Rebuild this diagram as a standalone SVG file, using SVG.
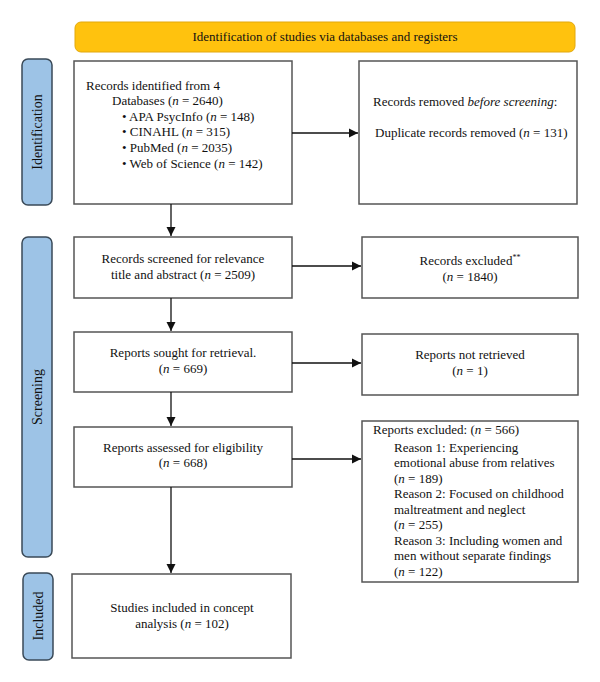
<svg xmlns="http://www.w3.org/2000/svg" width="600" height="682" viewBox="0 0 600 682">
<defs>
<style>
text{font-family:"Liberation Serif","Times New Roman",serif;font-size:13px;fill:#111;}
.i{font-style:italic;}
.c{text-anchor:middle;}
.box{fill:#fff;stroke:#555;stroke-width:1.5;}
.side{fill:#9DC3E6;stroke:#3a4a58;stroke-width:1.5;}
.con{stroke:#111;stroke-width:1.3;fill:none;marker-end:url(#ah);}
.st{font-size:14px;}
</style>
<marker id="ah" markerWidth="10" markerHeight="10" refX="9" refY="5" orient="auto" markerUnits="userSpaceOnUse">
<path d="M0,0.5 L9,5 L0,9.5 Z" fill="#111"/>
</marker>
</defs>
<rect width="600" height="682" fill="#fff"/>

<g id="banner">
<rect x="75" y="22" width="500" height="30" rx="6" fill="#FFC20E" stroke="#E2A80C" stroke-width="1"/>
<text class="c" x="325" y="41">Identification of studies via databases and registers</text>
</g>

<g id="side-identification">
<rect class="side" x="22" y="59" width="30" height="146" rx="6"/>
<text class="c st" transform="translate(42,132) rotate(-90)">Identification</text>
</g>
<g id="side-screening">
<rect class="side" x="22" y="237" width="30" height="320" rx="6"/>
<text class="c st" transform="translate(42,397) rotate(-90)">Screening</text>
</g>
<g id="side-included">
<rect class="side" x="23" y="573" width="30" height="87" rx="6"/>
<text class="c st" transform="translate(43,616) rotate(-90)">Included</text>
</g>

<g id="n-identified">
<rect class="box" x="74" y="61" width="218" height="143"/>
<text x="86" y="90">Records identified from 4</text>
<text x="112" y="105">Databases (<tspan class="i">n</tspan> = 2640)</text>
<text x="122" y="121">• APA PsycInfo (<tspan class="i">n</tspan> = 148)</text>
<text x="122" y="136">• CINAHL (<tspan class="i">n</tspan> = 315)</text>
<text x="122" y="152">• PubMed (<tspan class="i">n</tspan> = 2035)</text>
<text x="122" y="168">• Web of Science (<tspan class="i">n</tspan> = 142)</text>
</g>

<g id="n-removed">
<rect class="box" x="359" y="61" width="218" height="143"/>
<text x="373" y="106">Records removed <tspan class="i">before screening</tspan>:</text>
<text x="375" y="137">Duplicate records removed (<tspan class="i">n</tspan> = 131)</text>
</g>

<g id="n-screened">
<rect class="box" x="74" y="237" width="218" height="61"/>
<text class="c" x="183" y="263">Records screened for relevance</text>
<text class="c" x="183" y="279">title and abstract (<tspan class="i">n</tspan> = 2509)</text>
</g>

<g id="n-excluded">
<rect class="box" x="362" y="237" width="216" height="61"/>
<text class="c" x="470" y="265">Records excluded<tspan font-size="8" dy="-5">**</tspan></text>
<text class="c" x="470" y="281">(<tspan class="i">n</tspan> = 1840)</text>
</g>

<g id="n-sought">
<rect class="box" x="74" y="332" width="218" height="60"/>
<text class="c" x="183" y="357">Reports sought for retrieval.</text>
<text class="c" x="183" y="373">(<tspan class="i">n</tspan> = 669)</text>
</g>

<g id="n-notretrieved">
<rect class="box" x="362" y="334" width="216" height="61"/>
<text class="c" x="470" y="359">Reports not retrieved</text>
<text class="c" x="470" y="375">(<tspan class="i">n</tspan> = 1)</text>
</g>

<g id="n-assessed">
<rect class="box" x="74" y="427" width="218" height="60"/>
<text class="c" x="183" y="452">Reports assessed for eligibility</text>
<text class="c" x="183" y="467">(<tspan class="i">n</tspan> = 668)</text>
</g>

<g id="n-reportsexcluded">
<rect class="box" x="362" y="421" width="216" height="161"/>
<text x="373" y="434">Reports excluded: (<tspan class="i">n</tspan> = 566)</text>
<text x="394" y="452">Reason 1: Experiencing</text>
<text x="394" y="467">emotional abuse from relatives</text>
<text x="394" y="483">(<tspan class="i">n</tspan> = 189)</text>
<text x="394" y="498">Reason 2: Focused on childhood</text>
<text x="394" y="514">maltreatment and neglect</text>
<text x="394" y="529">(<tspan class="i">n</tspan> = 255)</text>
<text x="394" y="545">Reason 3: Including women and</text>
<text x="394" y="560">men without separate findings</text>
<text x="394" y="576">(<tspan class="i">n</tspan> = 122)</text>
</g>

<g id="n-included">
<rect class="box" x="72" y="574" width="219" height="84"/>
<text class="c" x="182" y="612">Studies included in concept</text>
<text class="c" x="182" y="628">analysis (<tspan class="i">n</tspan> = 102)</text>
</g>

<g id="connectors">
<line class="con" x1="171" y1="204" x2="171" y2="236"/>
<line class="con" x1="171" y1="298" x2="171" y2="331"/>
<line class="con" x1="171" y1="392" x2="171" y2="426"/>
<line class="con" x1="171" y1="487" x2="171" y2="573"/>
<line class="con" x1="292" y1="133" x2="358" y2="133"/>
<line class="con" x1="292" y1="266" x2="361" y2="266"/>
<line class="con" x1="292" y1="363" x2="361" y2="363"/>
<line class="con" x1="292" y1="459" x2="361" y2="459"/>
</g>
</svg>
